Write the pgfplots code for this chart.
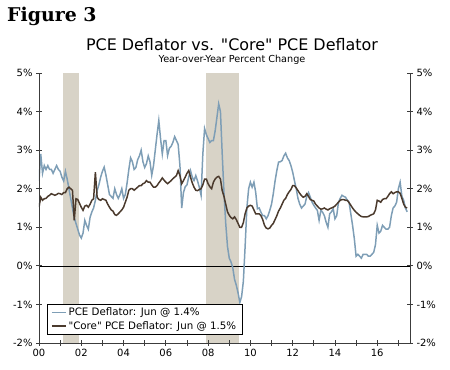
\documentclass[border=0pt]{standalone}
\usepackage{pgfplots}
\pgfplotsset{compat=1.18}
\usepackage{pgfplotstable}
\usepackage{fontspec}
\setmainfont{DejaVu Sans}
\newfontfamily\figfont{DejaVu Serif}
\definecolor{pceblue}{RGB}{126,158,182}
\definecolor{corebrown}{RGB}{75,58,45}
\definecolor{recband}{RGB}{216,211,199}
\definecolor{axgray}{RGB}{60,60,60}

\pgfplotstableread{
x pce core
2000.000 2.20 1.52
2000.083 2.90 1.78
2000.167 2.40 1.70
2000.250 2.60 1.74
2000.333 2.50 1.75
2000.417 2.60 1.80
2000.500 2.50 1.83
2000.583 2.50 1.87
2000.667 2.40 1.85
2000.750 2.50 1.83
2000.833 2.60 1.85
2000.917 2.50 1.88
2001.000 2.45 1.87
2001.083 2.30 1.85
2001.167 2.20 1.90
2001.250 2.45 1.90
2001.333 2.25 2.00
2001.417 2.00 2.04
2001.500 1.75 2.00
2001.583 1.50 1.96
2001.667 1.25 1.18
2001.750 1.10 1.74
2001.833 0.95 1.72
2001.917 0.80 1.62
2002.000 0.72 1.52
2002.083 0.85 1.44
2002.167 1.18 1.55
2002.250 1.05 1.57
2002.333 0.95 1.52
2002.417 1.26 1.60
2002.500 1.40 1.70
2002.583 1.50 1.74
2002.667 1.70 2.43
2002.750 1.95 1.78
2002.833 2.10 1.72
2002.917 2.30 1.70
2003.000 2.45 1.74
2003.083 2.56 1.72
2003.167 2.35 1.70
2003.250 2.10 1.60
2003.333 1.85 1.52
2003.417 1.80 1.45
2003.500 1.75 1.42
2003.583 2.00 1.33
2003.667 1.85 1.31
2003.750 1.75 1.35
2003.833 1.85 1.40
2003.917 2.00 1.45
2004.000 1.75 1.52
2004.083 1.85 1.65
2004.167 2.15 1.78
2004.250 2.50 1.96
2004.333 2.80 2.00
2004.417 2.70 2.00
2004.500 2.50 1.96
2004.583 2.55 2.00
2004.667 2.75 2.04
2004.750 2.85 2.08
2004.833 3.00 2.08
2004.917 2.70 2.13
2005.000 2.55 2.15
2005.083 2.65 2.21
2005.167 2.85 2.17
2005.250 2.70 2.17
2005.333 2.35 2.10
2005.417 2.60 2.04
2005.500 3.00 2.04
2005.583 3.40 2.08
2005.667 3.77 2.15
2005.750 3.30 2.21
2005.833 2.90 2.28
2005.917 3.25 2.22
2006.000 3.25 2.17
2006.083 2.86 2.13
2006.167 3.05 2.17
2006.250 3.10 2.21
2006.333 3.20 2.26
2006.417 3.35 2.30
2006.500 3.25 2.34
2006.583 3.15 2.47
2006.667 2.60 2.34
2006.750 1.50 2.13
2006.833 1.90 2.21
2006.917 2.05 2.30
2007.000 2.10 2.40
2007.083 2.30 2.47
2007.167 2.47 2.30
2007.250 2.30 2.15
2007.333 2.21 2.04
2007.417 2.34 1.96
2007.500 2.20 1.95
2007.583 2.04 1.98
2007.667 1.83 2.00
2007.750 2.90 2.10
2007.833 3.56 2.25
2007.917 3.40 2.25
2008.000 3.30 2.13
2008.083 3.20 2.05
2008.167 3.25 2.00
2008.250 3.25 2.17
2008.333 3.50 2.25
2008.417 3.85 2.30
2008.500 4.20 2.32
2008.583 4.00 2.25
2008.667 2.90 1.95
2008.750 1.90 1.80
2008.833 1.10 1.60
2008.917 0.50 1.40
2009.000 0.20 1.31
2009.083 0.10 1.25
2009.167 -0.05 1.22
2009.250 -0.35 1.27
2009.333 -0.50 1.20
2009.417 -0.70 1.10
2009.500 -0.95 1.00
2009.583 -0.80 1.00
2009.667 -0.40 1.12
2009.750 0.50 1.35
2009.833 1.50 1.50
2009.917 2.00 1.55
2010.000 2.17 1.57
2010.083 2.04 1.55
2010.167 2.17 1.45
2010.250 1.91 1.35
2010.333 1.48 1.35
2010.417 1.50 1.35
2010.500 1.39 1.30
2010.583 1.30 1.20
2010.667 1.30 1.05
2010.750 1.22 0.98
2010.833 1.30 0.96
2010.917 1.44 0.98
2011.000 1.60 1.05
2011.083 1.87 1.10
2011.167 2.20 1.20
2011.250 2.47 1.30
2011.333 2.69 1.42
2011.417 2.70 1.50
2011.500 2.73 1.60
2011.583 2.85 1.70
2011.667 2.92 1.75
2011.750 2.80 1.85
2011.833 2.73 1.92
2011.917 2.60 1.98
2012.000 2.43 2.08
2012.083 2.21 2.08
2012.167 2.00 2.02
2012.250 1.75 1.95
2012.333 1.60 1.88
2012.417 1.50 1.82
2012.500 1.55 1.78
2012.583 1.60 1.80
2012.667 1.80 1.87
2012.750 1.90 1.80
2012.833 1.78 1.72
2012.917 1.65 1.70
2013.000 1.57 1.68
2013.083 1.50 1.60
2013.167 1.44 1.55
2013.250 1.18 1.50
2013.333 1.44 1.47
2013.417 1.39 1.48
2013.500 1.30 1.50
2013.583 1.13 1.47
2013.667 1.00 1.45
2013.750 1.35 1.48
2013.833 1.40 1.50
2013.917 1.48 1.52
2014.000 1.22 1.55
2014.083 1.30 1.60
2014.167 1.65 1.65
2014.250 1.75 1.70
2014.333 1.83 1.72
2014.417 1.80 1.72
2014.500 1.78 1.70
2014.583 1.70 1.70
2014.667 1.65 1.64
2014.750 1.35 1.57
2014.833 1.05 1.50
2014.917 0.70 1.44
2015.000 0.25 1.39
2015.083 0.30 1.35
2015.167 0.25 1.31
2015.250 0.20 1.28
2015.333 0.30 1.27
2015.417 0.30 1.27
2015.500 0.30 1.27
2015.583 0.25 1.28
2015.667 0.25 1.31
2015.750 0.30 1.33
2015.833 0.35 1.35
2015.917 0.55 1.45
2016.000 1.05 1.70
2016.083 0.85 1.68
2016.167 0.90 1.65
2016.250 1.05 1.72
2016.333 1.00 1.74
2016.417 0.95 1.74
2016.500 0.95 1.80
2016.583 1.00 1.87
2016.667 1.30 1.92
2016.750 1.50 1.87
2016.833 1.55 1.90
2016.917 1.65 1.92
2017.000 2.00 1.92
2017.083 2.17 1.88
2017.167 1.80 1.75
2017.250 1.70 1.60
2017.333 1.50 1.52
2017.417 1.40 1.50
}\datatable

\begin{document}
\begin{tikzpicture}
\useasboundingbox (0,0) rectangle (450bp,370bp);
\node[anchor=base west, inner sep=0] at (7bp,348bp) {\figfont\bfseries\fontsize{19}{19}\selectfont Figure 3};
\node[anchor=base, inner sep=0] at (232bp,319bp) {\fontsize{16}{16}\selectfont PCE Deflator vs. \textquotedbl Core\textquotedbl{} PCE Deflator};
\node[anchor=base, inner sep=0] at (232bp,307bp) {\fontsize{9.7}{10}\selectfont Year-over-Year Percent Change};

\begin{axis}[at={(39bp,27bp)}, anchor=south west, scale only axis,
  width=371bp, height=270bp,
  xmin=2000, xmax=2017.55, ymin=-2, ymax=5,
  axis x line*=bottom, axis y line*=left,
  axis line style={axgray, line width=0.8pt},
  xtick={2000,2001,...,2017},
  xticklabels={00,,02,,04,,06,,08,,10,,12,,14,,16,{}},
  ytick={-2,-1,0,1,2,3,4,5},
  yticklabels={-2\%,-1\%,0\%,1\%,2\%,3\%,4\%,5\%},
  tick align=center, major tick length=6bp,
  tick style={axgray, line width=0.8pt},
  ticklabel style={font=\fontsize{10}{10}\selectfont},
  axis on top,
  legend style={at={(0.0207,0.0296)}, anchor=south west, draw=black, fill=white,
    font=\fontsize{10.3}{10.3}\selectfont, inner xsep=4bp, inner ysep=2bp, row sep=0bp, line width=0.8pt},
  legend cell align=left,
  legend image code/.code={\draw[#1] (0bp,0bp) -- (14bp,0bp);},
]
\addplot[fill=recband, draw=none, forget plot] coordinates {(2001.15,-2) (2001.15,5) (2001.88,5) (2001.88,-2)};
\addplot[fill=recband, draw=none, forget plot] coordinates {(2007.9,-2) (2007.9,5) (2009.48,5) (2009.48,-2)};
\addplot[black, line width=0.6pt, forget plot] coordinates {(2000,0) (2017.55,0)};
\addplot[pceblue, line width=1.5pt] table[x=x,y=pce]{\datatable};
\addlegendentry{PCE Deflator: Jun @ 1.4\%}
\addplot[corebrown, line width=1.5pt] table[x=x,y=core]{\datatable};
\addlegendentry{\textquotedbl Core\textquotedbl{} PCE Deflator: Jun @ 1.5\%}
\end{axis}

\begin{axis}[at={(39bp,27bp)}, anchor=south west, scale only axis,
  width=371bp, height=270bp,
  xmin=2000, xmax=2017.55, ymin=-2, ymax=5,
  axis x line=none, axis y line*=right,
  axis line style={axgray, line width=0.8pt},
  ytick={-2,-1,0,1,2,3,4,5},
  yticklabels={-2\%,-1\%,0\%,1\%,2\%,3\%,4\%,5\%},
  tick align=center, major tick length=6bp,
  tick style={axgray, line width=0.8pt},
  ticklabel style={font=\fontsize{10}{10}\selectfont},
]
\addplot[draw=none] coordinates {(2005,0)};
\end{axis}
\end{tikzpicture}
\end{document}
